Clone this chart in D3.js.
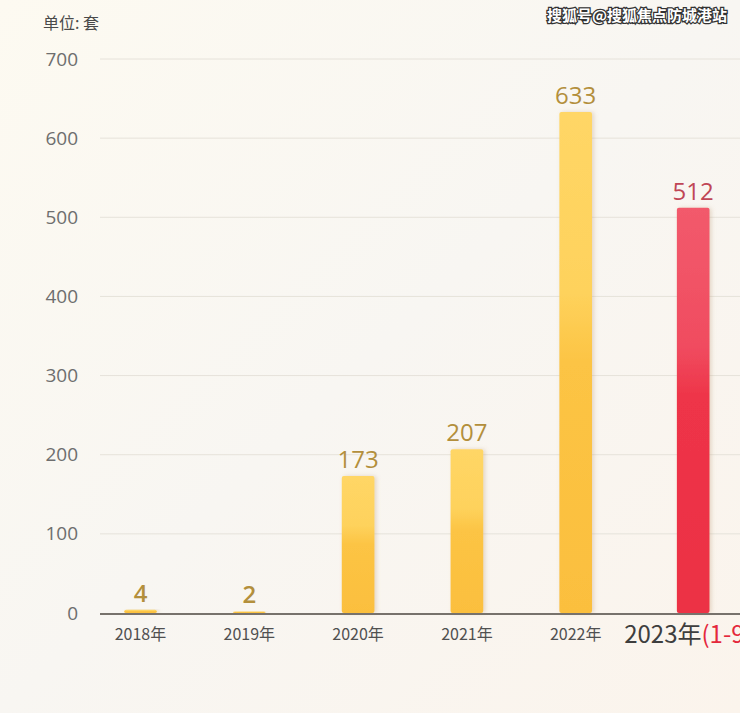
<!DOCTYPE html>
<html><head><meta charset="utf-8">
<script src="https://cdn.jsdelivr.net/npm/d3@7"></script>
<style>
html,body{margin:0;padding:0;}
body{width:740px;height:713px;overflow:hidden;background:#f8f5ee;}
</style></head>
<body>
<script>
const categories = ["2018年","2019年","2020年","2021年","2022年","2023年"];
const values = [4, 2, 173, 207, 633, 512];
const highlight = [false,false,false,false,false,true];
const yTicks = [0,100,200,300,400,500,600,700];
const unitLabel = "单位: 套";
const lastSuffix = "(1-9月)";
const watermark = "搜狐号@搜狐焦点防城港站";

const W = 740, H = 713;
const svg = d3.select("body").append("svg").attr("width", W).attr("height", H)
  .style("font-family", "'Noto Sans CJK SC','Noto Sans',sans-serif");
const defs = svg.append("defs");

const bg = defs.append("linearGradient").attr("id","bg").attr("x1","0").attr("y1","0").attr("x2","1").attr("y2","1");
bg.append("stop").attr("offset","0%").attr("stop-color","#fdfaf1");
bg.append("stop").attr("offset","50%").attr("stop-color","#f8f6f2");
bg.append("stop").attr("offset","100%").attr("stop-color","#fbf4ec");
svg.append("rect").attr("width",W).attr("height",H).attr("fill","url(#bg)");

const y = d3.scaleLinear().domain([0,700]).range([613,59]);
const x = d3.scaleBand().domain(categories).range([86, 739]).paddingInner(0.7).paddingOuter(0.351);
// highlighted category is set slightly apart
const xPos = (d,i) => x(d) + (highlight[i] ? x.step()*0.08 : 0);

const gy = defs.append("linearGradient").attr("id","gy").attr("x1",0).attr("y1",0).attr("x2",0).attr("y2",1);
gy.append("stop").attr("offset","0%").attr("stop-color","#ffd666");
gy.append("stop").attr("offset","36%").attr("stop-color","#fed25c");
gy.append("stop").attr("offset","50%").attr("stop-color","#fcc444");
gy.append("stop").attr("offset","100%").attr("stop-color","#fbbf3e");
const gr = defs.append("linearGradient").attr("id","gr").attr("x1",0).attr("y1",0).attr("x2",0).attr("y2",1);
gr.append("stop").attr("offset","0%").attr("stop-color","#f25a6c");
gr.append("stop").attr("offset","34%").attr("stop-color","#f04c60");
gr.append("stop").attr("offset","47%").attr("stop-color","#ee3448");
gr.append("stop").attr("offset","100%").attr("stop-color","#ec3044");
const sh = defs.append("filter").attr("id","sh").attr("x","-30%").attr("y","-10%").attr("width","160%").attr("height","120%");
sh.append("feDropShadow").attr("dx",2).attr("dy",0).attr("stdDeviation",2).attr("flood-color","#b08a60").attr("flood-opacity",0.3);

// grid
svg.append("g").selectAll("line").data(yTicks.filter(d=>d>0)).join("line")
  .attr("x1",100).attr("x2",W).attr("y1",d=>y(d)).attr("y2",d=>y(d))
  .attr("stroke","#e6e2da").attr("stroke-width",1);

// y axis labels
const yAxis = d3.axisLeft(y).tickValues(yTicks).tickSize(0).tickPadding(0);
const ga = svg.append("g").attr("transform","translate(78,0)").call(yAxis);
ga.select(".domain").remove();
ga.selectAll("text").attr("fill","#6e6e6e").attr("font-size",19).attr("font-weight",400)
  .attr("font-family","'Open Sans','Noto Sans',sans-serif");

// unit
svg.append("text").attr("x",43).attr("y",29).attr("fill","#4a4a4a").attr("font-size",16).text(unitLabel);

// bars
svg.append("g").selectAll("rect").data(values).join("rect")
  .attr("x",(d,i)=>xPos(categories[i],i)).attr("width",x.bandwidth())
  .attr("y",d=>y(d)).attr("height",d=>y(0)-y(d)).attr("rx",2)
  .attr("fill",(d,i)=>highlight[i]?"url(#gr)":"url(#gy)")
  .attr("filter","url(#sh)");

// baseline
svg.append("line").attr("x1",100).attr("x2",W).attr("y1",y(0)+1).attr("y2",y(0)+1)
  .attr("stroke","#77726c").attr("stroke-width",2);

// value labels
svg.append("g").selectAll("text").data(values).join("text")
  .attr("x",(d,i)=>xPos(categories[i],i)+x.bandwidth()/2).attr("y",d=>y(d)-8)
  .attr("text-anchor","middle").attr("font-size",24)
  .attr("font-weight",(d,i)=>i<2?600:400)
  .attr("font-family","'Open Sans','Noto Sans',sans-serif")
  .attr("fill",(d,i)=>highlight[i]?"#c04656":"#b38f3c").text(d=>d);

// x labels
const xl = svg.append("g").selectAll("text").data(categories).join("text")
  .attr("x",(d,i)=>xPos(d,i)+x.bandwidth()/2)
  .attr("y",(d,i)=>highlight[i]?643:640)
  .attr("text-anchor",(d,i)=>highlight[i]?"start":"middle")
  .attr("font-size",(d,i)=>highlight[i]?24:16)
  .attr("fill",(d,i)=>highlight[i]?"#3e3e3e":"#505050");
xl.each(function(d,i){
  const t = d3.select(this);
  if(highlight[i]){
    t.attr("x", xPos(d,i)+x.bandwidth()/2 - 69);
    t.append("tspan").text(d);
    t.append("tspan").attr("fill","#e4283c").text(lastSuffix);
  } else t.text(d);
});

// watermark
svg.append("text").attr("x",727).attr("y",21).attr("text-anchor","end")
  .attr("font-size",15).attr("font-weight",700).attr("fill","#fff")
  .attr("stroke","#333").attr("stroke-width",2.5).attr("paint-order","stroke")
  .text(watermark);
</script>
</body></html>
